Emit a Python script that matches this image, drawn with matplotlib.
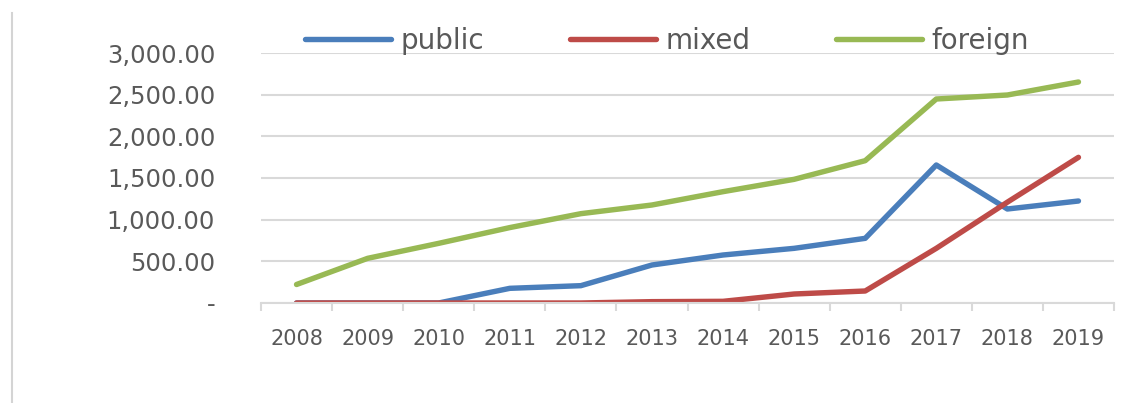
import matplotlib
matplotlib.use("Agg")
import matplotlib.pyplot as plt
from matplotlib.lines import Line2D
from matplotlib.ticker import FixedLocator, FuncFormatter

years = ["2008", "2009", "2010", "2011", "2012", "2013",
         "2014", "2015", "2016", "2017", "2018", "2019"]
public = [0, 0, 0, 176, 208, 456, 576, 656, 776, 1656, 1128, 1224]
mixed = [0, 0, 0, 0, 0, 16, 20, 108, 144, 656, 1210, 1748]
foreign = [222, 536, 716, 905, 1072, 1176, 1336, 1484, 1708, 2448, 2496, 2652]

series = [("public", public, "#4A7EBB"),
          ("mixed", mixed, "#BE4B48"),
          ("foreign", foreign, "#98B954")]

W, H = 1124, 403
fig = plt.figure(figsize=(W / 100, H / 100), dpi=100)
ax = fig.add_axes([261 / W, 1 - 303 / H, (1114 - 261) / W, (303 - 53) / H])

x = list(range(len(years)))
for name, vals, color in series:
    ax.plot(x, vals, color=color, lw=3.9, label=name,
            solid_capstyle="round", solid_joinstyle="round")

grid_c = "#D9D9D9"
text_c = "#595959"

ax.set_xlim(-0.5, len(years) - 0.5)
ax.set_ylim(0, 3000)
ax.set_yticks(range(0, 3001, 500))
ax.yaxis.set_major_formatter(FuncFormatter(lambda v, p: "-" if v == 0 else f"{v:,.2f}"))
ax.grid(axis="y", color=grid_c, lw=1.5)
ax.set_axisbelow(True)

ax.set_xticks(x)
ax.set_xticklabels(years)
ax.xaxis.set_minor_locator(FixedLocator([i - 0.5 for i in range(len(years) + 1)]))
ax.tick_params(axis="x", which="major", length=0, pad=19, labelsize=15, labelcolor=text_c)
ax.tick_params(axis="x", which="minor", length=6, width=1.5, color=grid_c)
ax.tick_params(axis="y", length=0, pad=33, labelsize=17.5, labelcolor=text_c)

for s in ["left", "right", "top"]:
    ax.spines[s].set_visible(False)
ax.spines["bottom"].set_color(grid_c)
ax.spines["bottom"].set_linewidth(1.5)

leg = ax.legend(loc="center", bbox_to_anchor=(0.476, 1 + (53 - 41) / 250),
                ncol=3, frameon=False, fontsize=20, handlelength=3.1,
                handletextpad=0.33, columnspacing=3.1, borderaxespad=0)
for t in leg.get_texts():
    t.set_color(text_c)

fig.add_artist(Line2D([12 / W, 12 / W], [0, 1 - 13 / H], color="#D4D4D4", lw=1.5,
                      transform=fig.transFigure))

fig.savefig("out.png", dpi=100)
